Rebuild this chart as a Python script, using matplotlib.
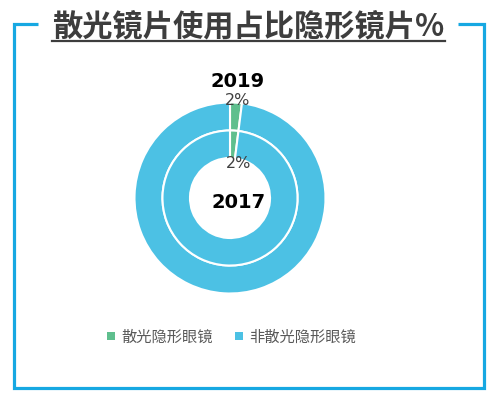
import matplotlib
matplotlib.use('Agg')
import matplotlib.pyplot as plt
from matplotlib.patches import Patch

plt.rcParams['font.family'] = ['Noto Sans CJK SC', 'DejaVu Sans']

title = '散光镜片使用占比隐形镜片%'
categories = ['散光隐形眼镜', '非散光隐形眼镜']
years = ['2019', '2017']
share_2019 = [2, 98]
share_2017 = [2, 98]
colors = ['#5fbf8e', '#4cc1e4']
frame_blue = '#16a8e2'

fig = plt.figure(figsize=(5.0, 4.01), dpi=100)
fig.patch.set_facecolor('white')

# pixel-space overlay for the frame and title
bg = fig.add_axes([0, 0, 1, 1])
bg.set_xlim(0, 500)
bg.set_ylim(401, 0)
bg.axis('off')
lw = 2.3
bg.plot([38, 14, 14, 484, 484, 458], [24, 24, 388, 388, 24, 24],
        color=frame_blue, lw=lw, solid_joinstyle='miter', solid_capstyle='butt')

t = bg.text(248.5, 26.5, title, ha='center', va='center', fontsize=21.8,
            fontweight='bold', color='#3d3d3d')
fig.canvas.draw()
bb = t.get_window_extent()
x0, x1 = bb.x0, bb.x1
bg.plot([x0, x1], [40.5, 40.5], color='#3d3d3d', lw=1.6)

# doughnut, centre (230,198) px, outer radius 95.5 px
cx, cy, R = 230, 198, 95.5
ax = fig.add_axes([(cx - R) / 500, (401 - cy - R) / 401, 2 * R / 500, 2 * R / 401])
wp = dict(edgecolor='white', linewidth=1.5)
ax.pie(share_2019, radius=1.0, colors=colors, startangle=90, counterclock=False,
       wedgeprops=dict(width=0.293, **wp))
ax.pie(share_2017, radius=0.707, colors=colors, startangle=90, counterclock=False,
       wedgeprops=dict(width=0.288, **wp))
ax.set_xlim(-1, 1)
ax.set_ylim(-1, 1)
ax.set_aspect('auto')

ax.text(0.075, 1.026, f'{share_2019[0]}%', ha='center', va='center',
        fontsize=11.5, color='#404040', family='DejaVu Sans')
ax.text(0.085, 0.366, f'{share_2017[0]}%', ha='center', va='center',
        fontsize=11.5, color='#404040', family='DejaVu Sans')
ax.text(0.084, 1.215, years[0], ha='center', va='center', fontsize=14,
        fontweight='bold', color='black', family='DejaVu Sans')
ax.text(0.094, -0.05, years[1], ha='center', va='center', fontsize=14,
        fontweight='bold', color='black', family='DejaVu Sans')

handles = [Patch(facecolor=c, edgecolor='none') for c in colors]
fig.legend(handles, categories, loc='center', bbox_to_anchor=(0.463, 1 - 337 / 401),
           ncol=2, frameon=False, fontsize=11, handlelength=0.5, handleheight=0.5,
           handletextpad=0.4, columnspacing=1.5, labelcolor='#595959')

fig.savefig('out.png', dpi=100, facecolor='white')
